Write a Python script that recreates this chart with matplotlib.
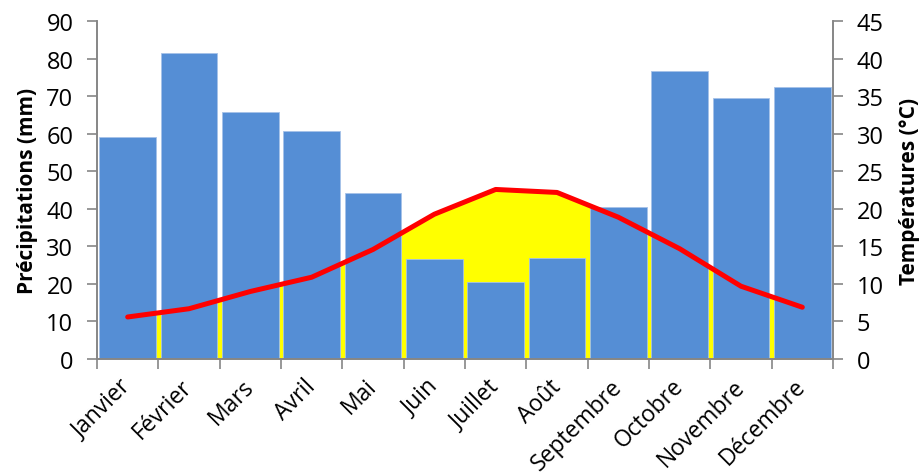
import numpy as np
import matplotlib
matplotlib.use("Agg")
import matplotlib.pyplot as plt

plt.rcParams['font.family'] = ['Open Sans', 'DejaVu Sans']

# Données du climatogramme
mois = ["Janvier", "Février", "Mars", "Avril", "Mai", "Juin",
        "Juillet", "Août", "Septembre", "Octobre", "Novembre", "Décembre"]
precipitations = [59.2, 81.5, 65.8, 60.7, 44.2, 26.7, 20.4, 27.0, 40.6, 76.9, 69.7, 72.6]
temperatures = [5.6, 6.7, 9.0, 10.9, 14.6, 19.3, 22.6, 22.2, 18.9, 14.7, 9.7, 6.9]

x = np.arange(len(mois))
gris = "#868686"

fig = plt.figure(figsize=(9.24, 4.77), dpi=100)
ax = fig.add_axes([0.105, 0.2453, 0.7965, 0.7077])
ax2 = ax.twinx()

# zone jaune sous la courbe (échelle P = 2T), derrière les barres
ax.fill_between(x, 0, np.array(temperatures) * 2, color="#FFFF00", zorder=1, linewidth=0)
ax.bar(x, precipitations, width=0.92, color="#558ED5", edgecolor="#A6C2E8",
       linewidth=0.6, zorder=2)

ax2.plot(x, temperatures, color="#FF0000", linewidth=3.6, solid_capstyle="round",
         solid_joinstyle="round", zorder=3)
ax2.set_zorder(ax.get_zorder() + 1)
ax2.patch.set_visible(False)

ax.set_xlim(-0.5, 11.5)
ax.set_ylim(0, 90)
ax2.set_ylim(0, 45)
ax.set_yticks(np.arange(0, 91, 10))
ax2.set_yticks(np.arange(0, 46, 5))

ax.set_xticks(x)
ax.set_xticklabels(mois, rotation=45, ha="right", va="center",
                   rotation_mode="anchor", fontsize=16.5)
ax.set_xticks(np.arange(-0.5, 12, 1), minor=True)
ax.tick_params(axis="x", which="major", length=0, pad=17)
ax.tick_params(axis="x", which="minor", length=7, color=gris, width=1.2)
ax.tick_params(axis="y", labelsize=17, length=7, color=gris, width=1.2, pad=10)
ax2.tick_params(axis="y", labelsize=17, length=7, color=gris, width=1.2, pad=10)

for a in (ax, ax2):
    a.spines["top"].set_visible(False)
    for s in ("left", "right", "bottom"):
        a.spines[s].set_color(gris)
        a.spines[s].set_linewidth(1.2)

ax.set_ylabel("Précipitations (mm)", fontsize=15, fontweight="bold", labelpad=6)
ax2.set_ylabel("Températures (°C)", fontsize=15, fontweight="bold", labelpad=11)

fig.savefig("out.png", dpi=100)
